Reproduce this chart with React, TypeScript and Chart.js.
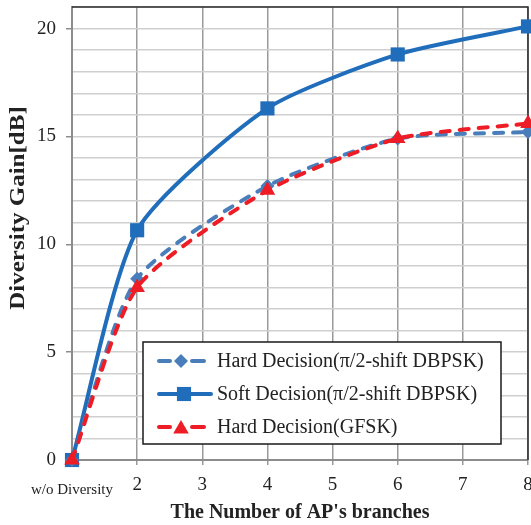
import React, { useEffect, useRef } from 'react';
import { Chart, registerables } from 'chart.js';

Chart.register(...registerables);

const branches = [1, 2, 4, 6, 8];
const xTickNames = ['w/o Diversity', '2', '3', '4', '5', '6', '7', '8'];
const hardDbpsk = [0, 8.4, 12.7, 14.9, 15.2];
const softDbpsk = [0, 10.65, 16.3, 18.8, 20.1];
const hardGfsk = [0, 8.0, 12.5, 14.9, 15.6];
const seriesNames = [
  'Hard Decision(π/2-shift DBPSK)',
  'Soft Decision(π/2-shift DBPSK)',
  'Hard Decision(GFSK)',
];
const xTitle = "The Number of AP's branches";
const yTitle = 'Diversity Gain[dB]';

const SERIF = '"Liberation Serif", "Times New Roman", serif';
const C_HARD = '#4a7ebb';
const C_SOFT = '#1f6dbb';
const C_GFSK = '#ee1c25';

const toPts = (ys: number[]) => branches.map((x, i) => ({ x, y: ys[i] }));

function marker(ctx: CanvasRenderingContext2D, style: string, x: number, y: number, r: number, color: string) {
  ctx.save();
  ctx.fillStyle = color;
  ctx.beginPath();
  if (style === 'rect') {
    const s = Math.SQRT1_2 * r;
    ctx.rect(x - s, y - s, 2 * s, 2 * s);
  } else if (style === 'rectRot') {
    ctx.moveTo(x, y - r);
    ctx.lineTo(x + r, y);
    ctx.lineTo(x, y + r);
    ctx.lineTo(x - r, y);
    ctx.closePath();
  } else {
    const a = (2 * Math.PI) / 3;
    ctx.moveTo(x, y - r);
    ctx.lineTo(x + Math.sin(a) * r, y - Math.cos(a) * r);
    ctx.lineTo(x - Math.sin(a) * r, y - Math.cos(a) * r);
    ctx.closePath();
  }
  ctx.fill();
  ctx.restore();
}

const framePlugin = {
  id: 'frameAndLegend',
  beforeDatasetsDraw(chart: any) {
    const { ctx, chartArea } = chart;
    const { left, right, top, bottom } = chartArea;
    ctx.save();
    ctx.strokeStyle = '#2a2a2a';
    ctx.lineWidth = 1.5;
    ctx.beginPath();
    ctx.moveTo(left, top);
    ctx.lineTo(right, top);
    ctx.lineTo(right, bottom);
    ctx.stroke();
    ctx.restore();
  },
  afterDatasetsDraw(chart: any) {
    const { ctx } = chart;
    ctx.save();
    // y title
    ctx.fillStyle = '#222';
    ctx.font = `bold 25px ${SERIF}`;
    ctx.textAlign = 'center';
    ctx.textBaseline = 'middle';
    ctx.translate(19, 208);
    ctx.rotate(-Math.PI / 2);
    ctx.scale(1, 0.82);
    ctx.fillText(yTitle, 0, 0);
    ctx.restore();

    // legend
    ctx.save();
    const bx = 143, by = 342, bw = 358, bh = 102;
    ctx.fillStyle = '#ffffff';
    ctx.fillRect(bx, by, bw, bh);
    ctx.strokeStyle = '#1a1a1a';
    ctx.lineWidth = 1.5;
    ctx.strokeRect(bx, by, bw, bh);
    const rows = [361, 394, 427];
    const items = [
      { color: C_HARD, style: 'rectRot', r: 7, dashed: true },
      { color: C_SOFT, style: 'rect', r: 10, dashed: false },
      { color: C_GFSK, style: 'triangle', r: 9, dashed: true },
    ];
    items.forEach((it, i) => {
      const y = rows[i];
      ctx.strokeStyle = it.color;
      ctx.lineWidth = 4;
      ctx.lineCap = 'round';
      ctx.beginPath();
      if (it.dashed) {
        ctx.moveTo(159, y);
        ctx.lineTo(170, y);
        ctx.moveTo(192, y);
        ctx.lineTo(204, y);
      } else {
        ctx.moveTo(159, y);
        ctx.lineTo(211, y);
      }
      ctx.stroke();
      marker(ctx, it.style, it.dashed ? 181 : 184, it.style === 'triangle' ? y + 2 : y, it.r, it.color);
      ctx.fillStyle = '#222';
      ctx.font = `20px ${SERIF}`;
      ctx.textAlign = 'left';
      ctx.textBaseline = 'middle';
      ctx.fillText(seriesNames[i], 217, y + 1);
    });
    ctx.restore();
  },
};

export default function App() {
  const ref = useRef<HTMLCanvasElement>(null);
  useEffect(() => {
    if (!ref.current) return;
    const common = {
      borderWidth: 4,
      pointBorderWidth: 0,
      tension: 0.22,
      clip: false,
    };
    const chart = new Chart(ref.current, {
      type: 'line',
      data: {
        datasets: [
          {
            ...common,
            label: seriesNames[0],
            data: toPts(hardDbpsk),
            borderColor: C_HARD,
            backgroundColor: C_HARD,
            borderDash: [9, 10],
            borderCapStyle: 'round',
            pointStyle: 'rectRot',
            pointRadius: 7,
            order: 1,
          },
          {
            ...common,
            label: seriesNames[1],
            data: toPts(softDbpsk),
            borderColor: C_SOFT,
            backgroundColor: C_SOFT,
            pointStyle: 'rect',
            pointRadius: 10,
            order: 2,
          },
          {
            ...common,
            label: seriesNames[2],
            data: toPts(hardGfsk),
            borderColor: C_GFSK,
            backgroundColor: C_GFSK,
            borderDash: [9, 10],
            borderCapStyle: 'round',
            pointStyle: 'triangle',
            pointRadius: 9,
            order: 0,
          },
        ],
      },
      options: {
        animation: false,
        responsive: false,
        maintainAspectRatio: false,
        layout: { autoPadding: false, padding: { top: 7, right: 3, left: 0, bottom: 0 } },
        plugins: { legend: { display: false }, tooltip: { enabled: false } },
        scales: {
          x: {
            type: 'linear',
            min: 1,
            max: 8,
            afterFit: (s: any) => {
              s.height = 65;
              s.paddingLeft = 0;
              s.paddingRight = 0;
            },
            ticks: {
              stepSize: 1,
              autoSkip: false,
              maxRotation: 0,
              padding: 9,
              color: '#222',
              callback: (v: any) => xTickNames[Number(v) - 1],
              font: (c: any) =>
                c.tick && c.tick.value === 1
                  ? { family: SERIF, size: 15, lineHeight: 2.13 }
                  : { family: SERIF, size: 19 },
            },
            grid: {
              color: (c: any) => (c.tick && c.tick.value === 1 ? 'rgba(0,0,0,0)' : '#9a9a9a'),
              lineWidth: 1.5,
              tickLength: 5,
            },
            border: { color: '#8c8c8c', width: 2 },
            title: {
              display: true,
              text: xTitle,
              color: '#222',
              font: { family: SERIF, size: 20, weight: 'bold' },
              padding: { top: 0, bottom: 0 },
            },
          },
          y: {
            min: 0,
            max: 21,
            afterFit: (s: any) => {
              s.width = 72;
              s.paddingTop = 0;
              s.paddingBottom = 0;
            },
            ticks: {
              stepSize: 1,
              autoSkip: false,
              padding: 10,
              color: '#222',
              callback: (v: any) => (Number(v) % 5 === 0 ? String(v) : ''),
              font: { family: SERIF, size: 19 },
            },
            grid: {
              color: '#cfcfcf',
              lineWidth: 1.5,
              tickLength: 6,
              tickColor: (c: any) => (c.tick && c.tick.value % 5 === 0 ? '#8c8c8c' : 'rgba(0,0,0,0)'),
            },
            border: { color: '#8c8c8c', width: 2 },
          },
        },
      },
      plugins: [framePlugin],
    } as any);
    return () => chart.destroy();
  }, []);
  return (
    <div style={{ position: 'fixed', left: 0, top: 0, width: 531, height: 525, background: '#fff' }}>
      <canvas ref={ref} width={531} height={525} style={{ width: 531, height: 525 }} />
    </div>
  );
}
